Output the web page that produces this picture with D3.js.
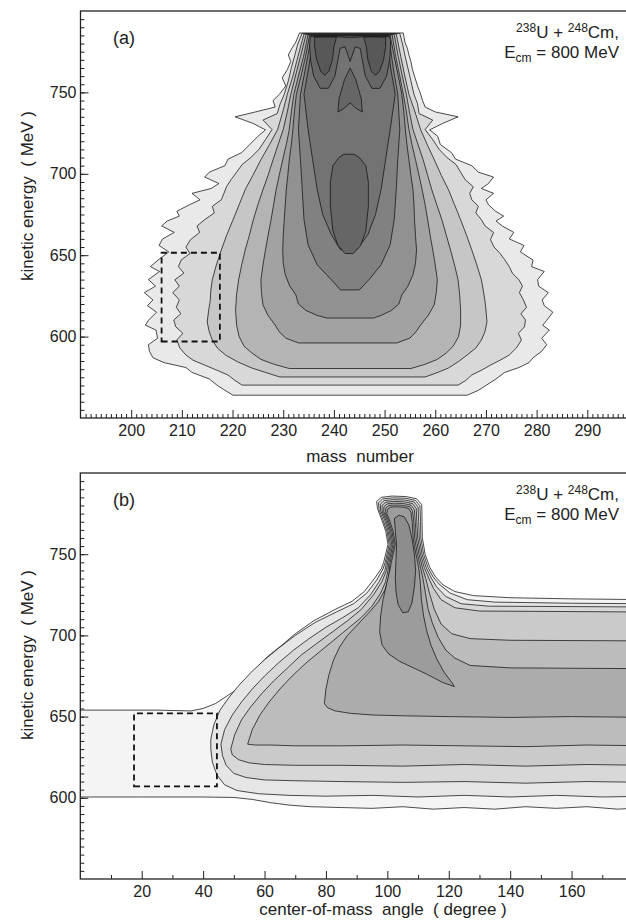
<!DOCTYPE html>
<html><head><meta charset="utf-8">
<script src="https://cdn.jsdelivr.net/npm/d3@7"></script>
<style>
body{margin:0;background:#fff}
svg{display:block}
text{font-family:"Liberation Sans",Arial,Helvetica,sans-serif;fill:#222}
</style>
</head><body>
<svg id="c" width="626" height="921"></svg>
<script>
// ---------------- data ----------------
const massTicks = [200,210,220,230,240,250,260,270,280,290];
const angleTicks = [20,40,60,80,100,120,140,160];
const energyTicks = [600,650,700,750];

// Panel (a): contour levels, rows [E, A_left, A_right] from bottom to top
const a1 = [[564,220.1,266.3],[567,218.5,268.5],[570,217.0,270.0],[574,215.4,272.0],[578,212.0,273.7],[581,210.8,276.5],[584,206.5,278.5],[587,204.3,279.3],[591,203.6,281.0],[595,203.4,282.0],[599,205.2,281.0],[604,204.9,282.5],[607,202.8,281.2],[610,203.4,282.0],[615,205.0,283.2],[619,203.2,281.5],[622.5,204.3,281.1],[627,202.6,282.3],[631,204.8,280.4],[635,203.4,280.2],[640,205.6,281.5],[643,203.8,279.0],[647,205.3,279.3],[652,207.4,276.8],[656,205.5,277.5],[660,206.2,274.6],[664,208.5,275.5],[668,206.0,273.2],[671,207.1,272.0],[674,209.5,273.5],[677,209.0,271.9],[681,211.5,270.5],[684,213.6,270.0],[688,212.0,271.5],[691,215.8,269.1],[694,217.3,270.5],[698,214.5,271.5],[701,215.4,268.5],[705,218.5,267.2],[709,219.1,264.0],[713,221.8,263.2],[718,223.4,261.0],[723,225.0,260.5],[727,226.5,258.9],[731,224.0,261.5],[735,220.5,264.5],[738,224.5,260.0],[741,228.4,258.0],[745,228.0,257.5],[749,229.3,257.1],[754,230.5,256.5],[759,229.8,256.0],[764,230.8,255.5],[769,231.5,255.2],[773,231.0,254.8],[777,231.7,254.5],[781,232.5,254.0],[786.5,233.2,253.7]];
const a2 = [[570.2,221.9,264.5],[573,220.5,266.0],[576.4,219.1,267.2],[579.5,216.8,269.2],[582.5,214.5,270.9],[585.5,212.2,272.8],[588.7,210.8,274.6],[593,209.6,276.0],[597.9,209.0,277.0],[602,210.2,276.4],[606,208.8,277.6],[610.2,208.4,277.8],[614,209.8,276.9],[618,208.9,278.0],[622.5,209.5,277.4],[627,208.2,276.6],[631,209.5,277.2],[634.9,208.6,276.5],[639,210.4,275.2],[643,209.3,274.6],[647.2,209.9,273.7],[651,211.6,272.8],[655,210.8,271.6],[659.5,211.7,270.9],[664,213.5,271.5],[668,213.0,269.8],[671.8,214.5,269.1],[676,216.4,268.0],[680,216.0,268.5],[684.1,217.8,267.2],[688,218.3,266.8],[692,218.8,267.5],[696.4,219.7,265.9],[701,220.8,265.0],[705.7,221.9,264.1],[710,223.6,262.3],[714.9,225.2,260.8],[721,226.5,259.5],[727.2,227.8,258.0],[733,226.0,259.5],[737,228.8,256.8],[743,229.4,256.5],[748.8,230.2,255.8],[757,231.0,255.2],[765,231.6,254.6],[773,232.3,254.0],[779,232.8,253.6],[786.2,233.7,253.0]];
const a3 = [[575.2,229.3,258.0],[578,226.5,260.5],[580.7,223.8,262.6],[584.5,221.0,264.5],[588.7,218.6,266.3],[593,217.0,268.0],[597.9,216.0,269.1],[603,215.4,269.8],[609,215.0,270.2],[616.4,215.3,270.0],[622,215.6,269.8],[628,215.7,269.5],[634.9,216.0,269.1],[644,216.8,268.2],[653.3,217.8,267.2],[662,218.8,266.2],[671.8,220.1,265.0],[681,221.3,263.8],[690.3,222.5,262.6],[699,224.0,261.2],[708.7,225.6,259.8],[718,227.3,258.4],[727.2,228.9,257.1],[738,229.9,256.0],[748.8,230.8,254.8],[760,231.9,254.0],[772,232.9,253.2],[785.9,234.1,252.3]];
const a4 = [[580.4,231.2,255.2],[583,228.2,258.0],[586.0,225.6,260.4],[590,223.8,262.2],[594.0,222.3,263.5],[600,221.3,264.6],[607,220.8,265.0],[616.4,220.6,265.0],[626,220.8,264.8],[634.9,221.2,264.5],[644,221.8,263.8],[653.3,222.5,263.0],[662,223.3,262.2],[671.8,224.1,261.3],[681,225.0,260.3],[690.3,226.0,259.3],[699,227.0,258.5],[708.7,228.0,257.6],[718,229.0,256.6],[727.2,230.0,255.6],[738,230.8,254.9],[748.8,231.5,254.3],[760,232.4,253.5],[772,233.4,252.7],[785.6,234.5,251.9]];
const a5 = [[596.1,233.0,252.4],[599.1,230.5,255.0],[603,229.2,256.2],[607.1,228.4,257.1],[613,227.0,258.6],[619.5,226.0,259.8],[627,225.7,260.2],[634.9,225.6,260.4],[644,226.0,260.0],[653.3,226.5,259.5],[662,227.0,259.0],[671.8,227.6,258.5],[681,228.1,258.0],[690.3,228.6,257.4],[699,229.2,256.8],[708.7,229.9,256.1],[718,230.6,255.4],[727.2,231.2,254.8],[738,231.6,254.3],[748.8,232.1,253.7],[760,233.0,253.0],[772,234.0,252.2],[785.3,234.9,251.5]];
const a6 = [[611.4,238.6,247.8],[613,236.7,249.3],[616,234.5,251.3],[620,233.0,252.8],[625.6,232.5,253.4],[631,231.3,254.6],[638.0,230.4,255.6],[645,230.0,256.1],[653.3,229.9,256.3],[662,230.0,256.1],[671.8,230.2,255.9],[681,230.4,255.8],[690.3,230.6,255.6],[699,230.9,255.2],[708.7,231.2,254.8],[718,231.6,254.4],[727.2,231.9,254.1],[738,232.2,253.8],[748.8,232.6,253.4],[760,233.5,252.7],[772,234.4,251.9],[785.0,235.2,251.1]];
const a7 = [[628.7,241.3,245.0],[634.9,239.5,246.9],[644.1,236.7,249.3],[656.4,234.9,251.1],[671.8,234.1,251.9],[690.3,233.75,252.3],[708.7,233.4,252.6],[727.2,233.0,253.0],[748.8,233.4,252.6],[765,234.4,251.7],[784.8,235.6,250.8]];
const a8 = [[653.3,241.3,244.5],[662.6,239.5,246.7],[674.9,237.8,248.2],[690.3,236.7,249.3],[708.7,235.8,250.2],[727.2,234.9,251.1],[748.8,234.1,252.1],[765,235.0,251.2],[784.6,236.0,250.4]];
const a9 = [[651,242.2,243.8],[656,240.8,245.3],[665,239.8,246.3],[680,239.3,246.8],[695,239.3,246.8],[705,239.8,246.3],[710,241.0,245.0],[712,242.0,244.0]];
// Panel (a): top cap with hanging "eyes", inner dark blobs, nose  [A, E]
const aCap = [[235.3,784.2],[235.2,778],[235.4,770],[236.0,760],[237.3,752.5],[238.9,752.5],[240.2,760],[240.8,770],[241.2,777],[242.2,778],[243.2,769],[244.2,778],[245.2,777],[245.6,770],[246.2,760],[247.5,752.5],[249.1,752.5],[250.4,760],[251.0,770],[251.2,778],[251.1,784.2],[249,784.3],[246.5,784.3],[243.2,783.6],[240,784.3],[237.5,784.3]];
const aEyeL = [[236.2,783.8],[236.2,778],[236.6,770],[237.4,763],[238.2,760.5],[239.0,763],[239.7,770],[240.0,778],[240.5,783.9],[238.5,784.1]];
const aEyeR = [[250.2,783.8],[250.2,778],[249.8,770],[249.0,763],[248.2,760.5],[247.4,763],[246.7,770],[246.4,778],[245.9,783.9],[247.9,784.1]];
const aNose = [[243.2,765],[244.3,758],[245.4,746],[245.6,738],[244.5,740],[243.2,743.5],[241.9,740],[240.8,738],[241.0,746],[242.1,758]];
const boxA = [[206,597],[217.5,597],[217.5,651.5],[206,651.5]];

// Panel (b): contour levels as closed polygons [angle, E]
const b1 = [[0,654],[25,654],[36,653.5],[40,655],[44,658],[48,663],[52,668],[55,675],[58,681],[61,687],[65,693],[70,701],[76,709],[83,716],[88.5,721],[92.5,727],[95.8,735],[98,741],
  [98.8,745],[100.2,756],[99.5,764],[98.2,771],[96.8,778],[96.5,782.5],[98,785],[101.5,785.8],[106,785.5],[109.5,784.2],[111.2,780.5],[111.3,770],[111.4,760],[112.3,750],[113.8,742],
  [115.7,736],[118.2,731],[122,727],[128,724.5],[140,723.2],[160,722.5],[185,722],
  [185,594],[175,593],[165,594.5],[155,593.5],[145,594.5],[135,593],[125,594],[115,593],[105,594.5],[95,593.5],[85,594],[75,594.5],[68,595.5],[62,597],[56,599],[50,600.2],[40,600.5],[20,600.5],[0,600.5]];
const b2 = [[42.5,636],[43.5,645],[45.5,654],[48.5,662],[52,670],[56,678],[60,685],[64.5,692],[70,700],[76.5,708],[83.5,714.5],[89,719.5],[93.3,726],[96.5,734],[98.6,741],
  [99.3,745],[100.6,756],[99.9,764],[98.6,771],[97.3,777.5],[97.1,781.7],[98.5,784],[101.6,784.7],[105.8,784.5],[109.1,783.2],[110.6,779.8],[110.8,770],[110.9,760],[111.8,750],[113.2,742],
  [114.9,736],[117.2,731],[120.5,726],[126,722],[135,720.5],[160,719.8],[185,719.5],
  [185,601],[170,600.5],[155,601.5],[140,600.5],[125,601.5],[110,600.5],[95,601.5],[80,601],[68,601.5],[58,602.5],[51,604.5],[47,608],[44.5,614],[43,622],[42.5,630]];
const b3 = [[45.8,633],[47,642],[49.5,651],[52.5,659],[56,667],[60,675],[64.5,683],[69.5,691],[74.5,698],[80,705],[85.5,711],[90.5,717],[94.5,725],[97.3,733],[99.2,740],
  [99.7,745],[101.0,756],[100.3,764],[99.1,771],[97.8,777],[97.7,780.9],[99,783],[101.8,783.6],[105.6,783.4],[108.7,782.2],[110,779],[110.2,770],[110.4,760],[111.3,750],[112.6,742],
  [114.1,736],[116,730],[119,724],[124,719.5],[133,718],[185,717.5],
  [185,609.5],[165,610],[145,609],[125,610],[105,609.5],[85,610],[70,610.5],[60,611],[54,612.5],[50,615],[47.5,620],[46.3,626]];
const b4 = [[49,630],[50.3,639],[52.5,648],[55.5,656],[59,664],[63,672],[67.5,680],[72,688],[77,695],[82,702],[87,709],[91.5,716],[95.5,725],[98.2,733],[99.7,740],
  [100.1,745],[101.4,756],[100.7,764],[99.5,771],[98.3,776.5],[98.3,780.1],[99.5,782],[102,782.5],[105.4,782.3],[108.2,781.2],[109.4,778.2],[109.6,770],[109.9,760],[110.8,750],[112,742],
  [113.3,736],[115,729],[117.5,722],[122,717],[130,715],[185,714.4],
  [185,620],[165,620.5],[145,619.5],[125,620.5],[105,619.5],[85,620],[70,620],[60,620.5],[55,621.5],[51.5,623.5],[49.5,626.5]];
const b5 = [[54.5,633],[56,642],[58.5,651],[61.5,659],[65,667],[69,675],[73.5,683],[78,690],[82.5,697],[87,704],[91.5,711],[95,718],[97.8,726],[99.4,733],[100.2,740],
  [100.5,745],[101.8,756],[101.1,764],[99.9,771],[98.8,776],[98.9,779.3],[100,781],[102.2,781.4],[105.2,781.2],[107.7,780.2],[108.8,777.4],[109.1,770],[109.4,760],[110.3,750],[111.4,742],
  [112.5,735],[113.7,726],[115.3,716],[117.5,707],[121,701],[127,698],[140,697],[185,696.6],
  [185,632],[165,632.5],[145,631.5],[125,632],[105,632.5],[85,632],[70,632],[62,632.5],[57,632.5]];
const b6 = [[79.5,658],[80,667],[81,676],[82.5,685],[84.5,693],[87,700],[90.5,707],[94,714],[97.2,721],[99.2,728],[100.3,735],[100.7,741],
  [100.9,745],[102.2,756],[101.5,764],[100.3,771],[99.3,775.5],[99.5,778.5],[100.5,780],[102.4,780.3],[105,780.1],[107.3,779.2],[108.2,776.6],[108.6,770],[108.9,760],[109.8,750],[110.8,742],
  [111.6,735],[112.4,726],[113.3,716],[114.6,708],[116.5,699],[119,691],[122,686],[127,681.5],[140,680],[185,679.5],
  [185,649.5],[160,650],[140,649.5],[120,650],[105,650.5],[95,651],[88,652],[83,653.5],[80.5,655.5]];
const b7 = [[121.8,668.5],[118,671],[113,676],[108.5,680],[104,684],[100.5,688.5],[98.3,694],[97.5,702],[97.8,712],[98.6,722],[99.8,732],[100.8,740],
  [101.3,745],[102.6,756],[101.9,764],[100.7,771],[99.8,775],[100.1,777.7],[101,779],[102.7,779.2],[105,779],[106.9,778.2],[107.7,775.8],[108.1,770],[108.4,760],[109.3,750],[110.2,742],
  [110.7,733],[111.1,722],[111.8,712],[112.8,703],[114.2,694],[116.2,685],[118.6,677],[121,671]];
const b8 = [[102.3,772],[102.6,764],[103,756],[102.8,746],[102.6,736],[102.8,727],[103.5,719],[105,714],[106.8,714.5],[108,720],[108.8,730],[109.2,740],[108.8,750],[108,760],[107,768],[105.5,773],[103.8,774]];
const boxB = [[17.5,607],[44.5,607],[44.5,652],[17.5,652]];

// ---------------- styles ----------------
const fillsA = ["#e9e9e9","#d8d8d8","#c6c6c6","#b4b4b4","#a2a2a2","#919191","#818181","#737373","#666666","#585858"];
const fillsB = ["#f4f4f4","#e6e6e6","#d8d8d8","#cacaca","#bcbcbc","#acacac","#9c9c9c","#8d8d8d"];

const svg = d3.select("#c");
const rowsToPoly = rows => rows.map(r => [r[1], r[0]]).concat(rows.slice().reverse().map(r => [r[2], r[0]]));

function panel(cfg) {
  const {x, y, top, bottom, left, right, id} = cfg;
  svg.append("clipPath").attr("id", id).append("rect")
    .attr("x", left).attr("y", top).attr("width", right - left).attr("height", bottom - top);
  const g = svg.append("g").attr("clip-path", `url(#${id})`);
  const line = d3.line().x(d => x(d[0])).y(d => y(d[1]));
  cfg.polys.forEach(p => {
    g.append("path").attr("d", line(p.pts) + "Z")
      .attr("fill", p.fill).attr("stroke", "#111").attr("stroke-width", 0.75).attr("stroke-linejoin", "round");
  });
  g.append("path").attr("d", line(cfg.box) + "Z").attr("fill", "none")
    .attr("stroke", "#111").attr("stroke-width", 1.8).attr("stroke-dasharray", "6,4");

  svg.append("g").attr("transform", `translate(0,${bottom})`)
    .call(d3.axisBottom(x).tickValues(cfg.minorX).tickSize(-4).tickFormat(""));
  svg.append("g").attr("transform", `translate(0,${bottom})`)
    .call(d3.axisBottom(x).tickValues(cfg.xTicks).tickSize(-8).tickPadding(7).tickFormat(d3.format("d")));
  svg.append("g").attr("transform", `translate(${left},0)`)
    .call(d3.axisLeft(y).tickValues(d3.range(555, 800, 5)).tickSize(-4).tickFormat(""));
  svg.append("g").attr("transform", `translate(${left},0)`)
    .call(d3.axisLeft(y).tickValues(energyTicks).tickSize(-8).tickPadding(4).tickFormat(d3.format("d")));
  svg.selectAll(".domain").remove();
  svg.selectAll(".tick line").attr("stroke", "#222").attr("stroke-width", 1);
  svg.selectAll(".tick text").attr("font-size", 16).attr("fill", "#222")
    .attr("font-family", '"Liberation Sans",Arial,sans-serif');
  svg.append("rect").attr("x", left).attr("y", top).attr("width", right - left).attr("height", bottom - top)
    .attr("fill", "none").attr("stroke", "#222").attr("stroke-width", 1.3);
  svg.append("text").attr("x", 113).attr("y", top + 33).attr("font-size", 18).text(cfg.tag);
  const t1 = svg.append("text").attr("x", 619).attr("y", top + 27).attr("text-anchor", "end").attr("font-size", 17);
  t1.append("tspan").attr("font-size", 12).attr("dy", -6).text("238");
  t1.append("tspan").attr("dy", 6).text("U + ");
  t1.append("tspan").attr("font-size", 12).attr("dy", -6).text("248");
  t1.append("tspan").attr("dy", 6).text("Cm,");
  const t2 = svg.append("text").attr("x", 619).attr("y", top + 47).attr("text-anchor", "end").attr("font-size", 17);
  t2.append("tspan").text("E");
  t2.append("tspan").attr("font-size", 12).attr("dy", 4).text("cm");
  t2.append("tspan").attr("dy", -4).text(" = 800 MeV");
  svg.append("text").attr("transform", `translate(33,${cfg.yTitleY}) rotate(-90)`)
    .attr("text-anchor", "middle").attr("font-size", 17).attr("xml:space", "preserve").text("kinetic energy  ( MeV )");
  svg.append("text").attr("x", cfg.xTitleX).attr("y", cfg.xTitleY).attr("text-anchor", "middle")
    .attr("font-size", 17).attr("xml:space", "preserve").text(cfg.xTitle);
}

const xA = d3.scaleLinear().domain([190, 300]).range([80.5, 638]);
const yA = d3.scaleLinear().domain([550, 800]).range([418, 11]);
const polysA = [a1,a2,a3,a4,a5,a6,a7,a8,a9].map((r,i) => ({pts: rowsToPoly(r), fill: fillsA[i]}))
  .concat([{pts: aNose, fill: fillsA[8]}, {pts: aCap, fill: fillsA[8]}, {pts: aEyeL, fill: fillsA[9]}, {pts: aEyeR, fill: fillsA[9]}]);
panel({id: "clipA", x: xA, y: yA, top: 11, bottom: 418, left: 80.5, right: 638, polys: polysA, box: boxA,
  xTicks: massTicks, minorX: d3.range(191, 300, 1).filter(v => v % 10 !== 0),
  tag: "(a)", xTitle: "mass  number", xTitleX: 360, xTitleY: 462, yTitleY: 196});

const xB = d3.scaleLinear().domain([0, 180]).range([80.3, 633]);
const yB = d3.scaleLinear().domain([550, 800]).range([879, 473]);
const polysB = [b1,b2,b3,b4,b5,b6,b7,b8].map((p,i) => ({pts: p, fill: fillsB[i]}));
panel({id: "clipB", x: xB, y: yB, top: 473, bottom: 879, left: 80.3, right: 633, polys: polysB, box: boxB,
  xTicks: angleTicks, minorX: d3.range(10, 180, 20),
  tag: "(b)", xTitle: "center-of-mass  angle  ( degree )", xTitleX: 383, xTitleY: 915, yTitleY: 655});
</script>
</body></html>
